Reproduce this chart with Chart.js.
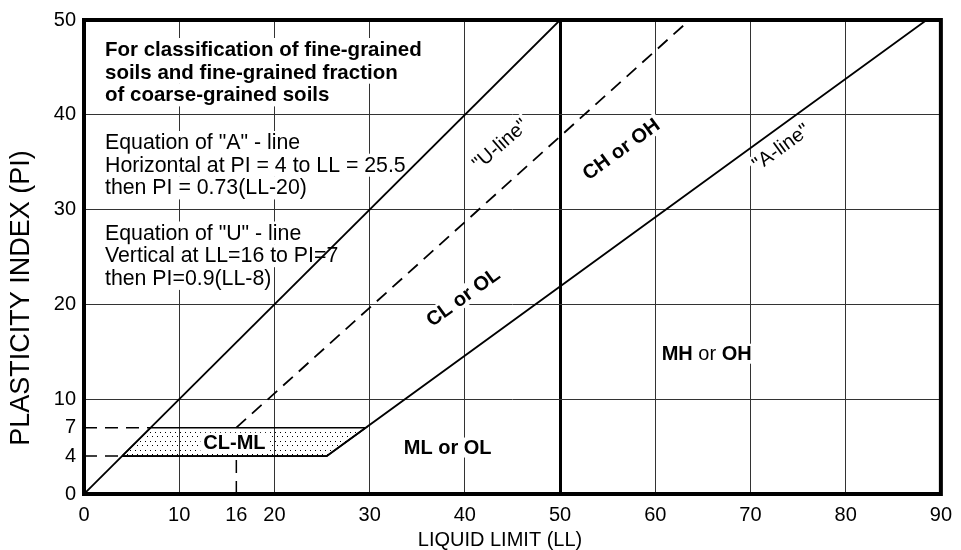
<!DOCTYPE html>
<html>
<head>
<meta charset="utf-8">
<script src="https://cdn.jsdelivr.net/npm/chart.js@4.4.0/dist/chart.umd.min.js"></script>
<style>
  html, body { margin: 0; padding: 0; background: #fff; }
</style>
</head>
<body>
<canvas id="chart" width="961" height="550"></canvas>
<script>
// tick values on each axis
const llTicks = [0, 10, 16, 20, 30, 40, 50, 60, 70, 80, 90];
const piTicks = [0, 4, 7, 10, 20, 30, 40, 50];

// PI = LL upper bound line
const diagLL = [0, 50];
const diagPI = [0, 50];

// "A"-line: horizontal at PI = 4 to LL = 25.5, then PI = 0.73(LL-20)
const aLineLL = [4, 25.5, 88.5];
const aLinePI = [4, 4, 50];

// "U"-line: from LL = 16, PI = 7, then PI = 0.9(LL-8)
const uLineLL = [16, 63.6];
const uLinePI = [7, 50];

// CL-ML zone outline
const clmlLL = [4, 25.5, 29.6, 7, 4];
const clmlPI = [4, 4, 7, 7, 4];

// dashed guides to the axes
const guide7LL = [0, 7];
const guide7PI = [7, 7];
const guide4LL = [0, 4];
const guide4PI = [4, 4];
const guide16LL = [16, 16];
const guide16PI = [0, 4];

// liquid limit that splits low / high plasticity
const llDivide = 50;

const noteBold = [
  'For classification of fine-grained',
  'soils and fine-grained fraction',
  'of coarse-grained soils'
];
const noteA = [
  'Equation of "A" - line',
  'Horizontal at PI = 4 to LL = 25.5',
  'then PI = 0.73(LL-20)'
];
const noteU = [
  'Equation of "U" - line',
  'Vertical at LL=16 to PI=7',
  'then PI=0.9(LL-8)'
];

const FONT = '"Liberation Sans", Arial, Helvetica, sans-serif';

// zone names, placed in chart units
const zoneLabels = [
  { runs: [['CL-ML', true]], ll: 15.8, pi: 5.4, rot: 0, over: true },
  { runs: [['ML or OL', true]], ll: 38.2, pi: 4.9, rot: 0 },
  { runs: [['CL or OL', true]], ll: 39.8, pi: 20.8, rot: -36 },
  { runs: [['CH or OH', true]], ll: 56.4, pi: 36.4, rot: -36 },
  { runs: [['MH', true], [' or ', false], ['OH', true]], ll: 65.4, pi: 14.8, rot: 0 },
  { runs: [['"U-line"', false]], ll: 43.7, pi: 36.9, rot: -41 },
  { runs: [['"A-line"', false]], ll: 73.2, pi: 36.6, rot: -36 }
];

const pts = (xs, ys) => xs.map((v, i) => ({ x: v, y: ys[i] }));

function dotPattern() {
  const c = document.createElement('canvas');
  c.width = 5;
  c.height = 9;
  const g = c.getContext('2d');
  g.fillStyle = '#000';
  g.fillRect(0, 0, 1, 1);
  g.fillRect(2, 4, 1, 1);
  return g.createPattern(c, 'repeat');
}

function drawLabel(ctx, lab, x, y) {
  const cx = x.getPixelForValue(lab.ll);
  const cy = y.getPixelForValue(lab.pi);
  ctx.save();
  ctx.translate(cx, cy);
  ctx.rotate(lab.rot * Math.PI / 180);
  let w = 0;
  lab.runs.forEach(r => {
    ctx.font = (r[1] ? 'bold ' : '') + '20px ' + FONT;
    w += ctx.measureText(r[0]).width;
  });
  ctx.fillStyle = '#fff';
  ctx.fillRect(-w / 2 - 3, -10, w + 6, 20);
  ctx.fillStyle = '#000';
  ctx.textBaseline = 'middle';
  ctx.textAlign = 'left';
  let px = -w / 2;
  lab.runs.forEach(r => {
    ctx.font = (r[1] ? 'bold ' : '') + '20px ' + FONT;
    ctx.fillText(r[0], px, 1);
    px += ctx.measureText(r[0]).width;
  });
  ctx.restore();
}

function drawNote(ctx, lines, left, firstBase, font) {
  ctx.save();
  ctx.font = font;
  ctx.textBaseline = 'alphabetic';
  ctx.textAlign = 'left';
  lines.forEach((t, i) => {
    const base = firstBase + i * 22.7;
    const w = ctx.measureText(t).width;
    ctx.fillStyle = '#fff';
    ctx.fillRect(left - 2, base - 18, w + 4, 23);
    ctx.fillStyle = '#000';
    ctx.fillText(t, left, base);
  });
  ctx.restore();
}

const overlay = {
  id: 'overlay',
  beforeDatasetsDraw(chart) {
    const { ctx, chartArea: a, scales: { x, y } } = chart;
    drawNote(ctx, noteBold, a.left + 21, a.top + 36, 'bold 20.5px ' + FONT);
    drawNote(ctx, noteA, a.left + 21, a.top + 129, '21.3px ' + FONT);
    drawNote(ctx, noteU, a.left + 21, a.top + 219.5, '21.3px ' + FONT);
    zoneLabels.filter(l => !l.over).forEach(l => drawLabel(ctx, l, x, y));
  },
  afterDatasetsDraw(chart) {
    const { ctx, chartArea: a, scales: { x, y } } = chart;
    zoneLabels.filter(l => l.over).forEach(l => drawLabel(ctx, l, x, y));
    ctx.save();
    ctx.lineWidth = 4;
    ctx.strokeStyle = '#000';
    ctx.strokeRect(a.left, a.top, a.right - a.left, a.bottom - a.top);
    ctx.restore();
  },
  afterDraw(chart) {
    const { ctx } = chart;
    ctx.save();
    ctx.fillStyle = '#000';
    ctx.textAlign = 'center';
    ctx.textBaseline = 'middle';
    ctx.font = '20px ' + FONT;
    ctx.fillText('LIQUID LIMIT (LL)', 500, 540);
    ctx.font = '27px ' + FONT;
    ctx.translate(22, 298);
    ctx.rotate(-Math.PI / 2);
    ctx.fillText('PLASTICITY INDEX (PI)', 0, 0);
    ctx.restore();
  }
};

const lineSet = (data, opts) => Object.assign({
  data: data,
  showLine: true,
  fill: false,
  borderColor: '#000',
  borderWidth: 1.8,
  pointRadius: 0,
  tension: 0
}, opts);

const gridColor = ctx => {
  const v = ctx.tick ? ctx.tick.value : null;
  if (v === llDivide && ctx.scale.axis === 'x') return '#000';
  return v % 10 === 0 ? '#333' : 'rgba(0,0,0,0)';
};
const gridWidth = ctx => {
  const v = ctx.tick ? ctx.tick.value : null;
  return (v === llDivide && ctx.scale.axis === 'x') ? 3 : 1;
};

new Chart(document.getElementById('chart'), {
  type: 'scatter',
  data: {
    datasets: [
      lineSet(pts(diagLL, diagPI), { order: 1 }),
      lineSet(pts(aLineLL, aLinePI), { order: 1 }),
      lineSet(pts(uLineLL, uLinePI), { order: 1, borderDash: [13, 8] }),
      lineSet(pts(guide7LL, guide7PI), { order: 1, borderWidth: 1.5, borderDash: [13, 8] }),
      lineSet(pts(guide4LL, guide4PI), { order: 1, borderWidth: 1.5, borderDash: [13, 8] }),
      lineSet(pts(guide16LL, guide16PI), { order: 1, borderWidth: 1.5, borderDash: [13, 8] }),
      lineSet(pts(clmlLL, clmlPI), { order: 2, fill: 'shape', backgroundColor: dotPattern(), borderWidth: 1.5 })
    ]
  },
  options: {
    responsive: false,
    animation: false,
    layout: { padding: { top: 14, right: 14, left: 0, bottom: 0 } },
    plugins: {
      legend: { display: false },
      tooltip: { enabled: false }
    },
    scales: {
      x: {
        type: 'linear',
        min: 0,
        max: 90,
        afterBuildTicks: s => { s.ticks = llTicks.map(v => ({ value: v })); },
        afterFit: s => { s.height = 56; },
        border: { display: false },
        grid: { color: gridColor, lineWidth: gridWidth, drawTicks: false },
        ticks: { color: '#000', font: { family: FONT, size: 20 }, padding: 9, autoSkip: false, maxRotation: 0 }
      },
      y: {
        type: 'linear',
        min: 0,
        max: 50,
        afterBuildTicks: s => { s.ticks = piTicks.map(v => ({ value: v })); },
        afterFit: s => { s.width = 84; },
        border: { display: false },
        grid: { color: gridColor, lineWidth: gridWidth, drawTicks: false },
        ticks: { color: '#000', font: { family: FONT, size: 20 }, padding: 8, autoSkip: false }
      }
    }
  },
  plugins: [overlay]
});
</script>
</body>
</html>
